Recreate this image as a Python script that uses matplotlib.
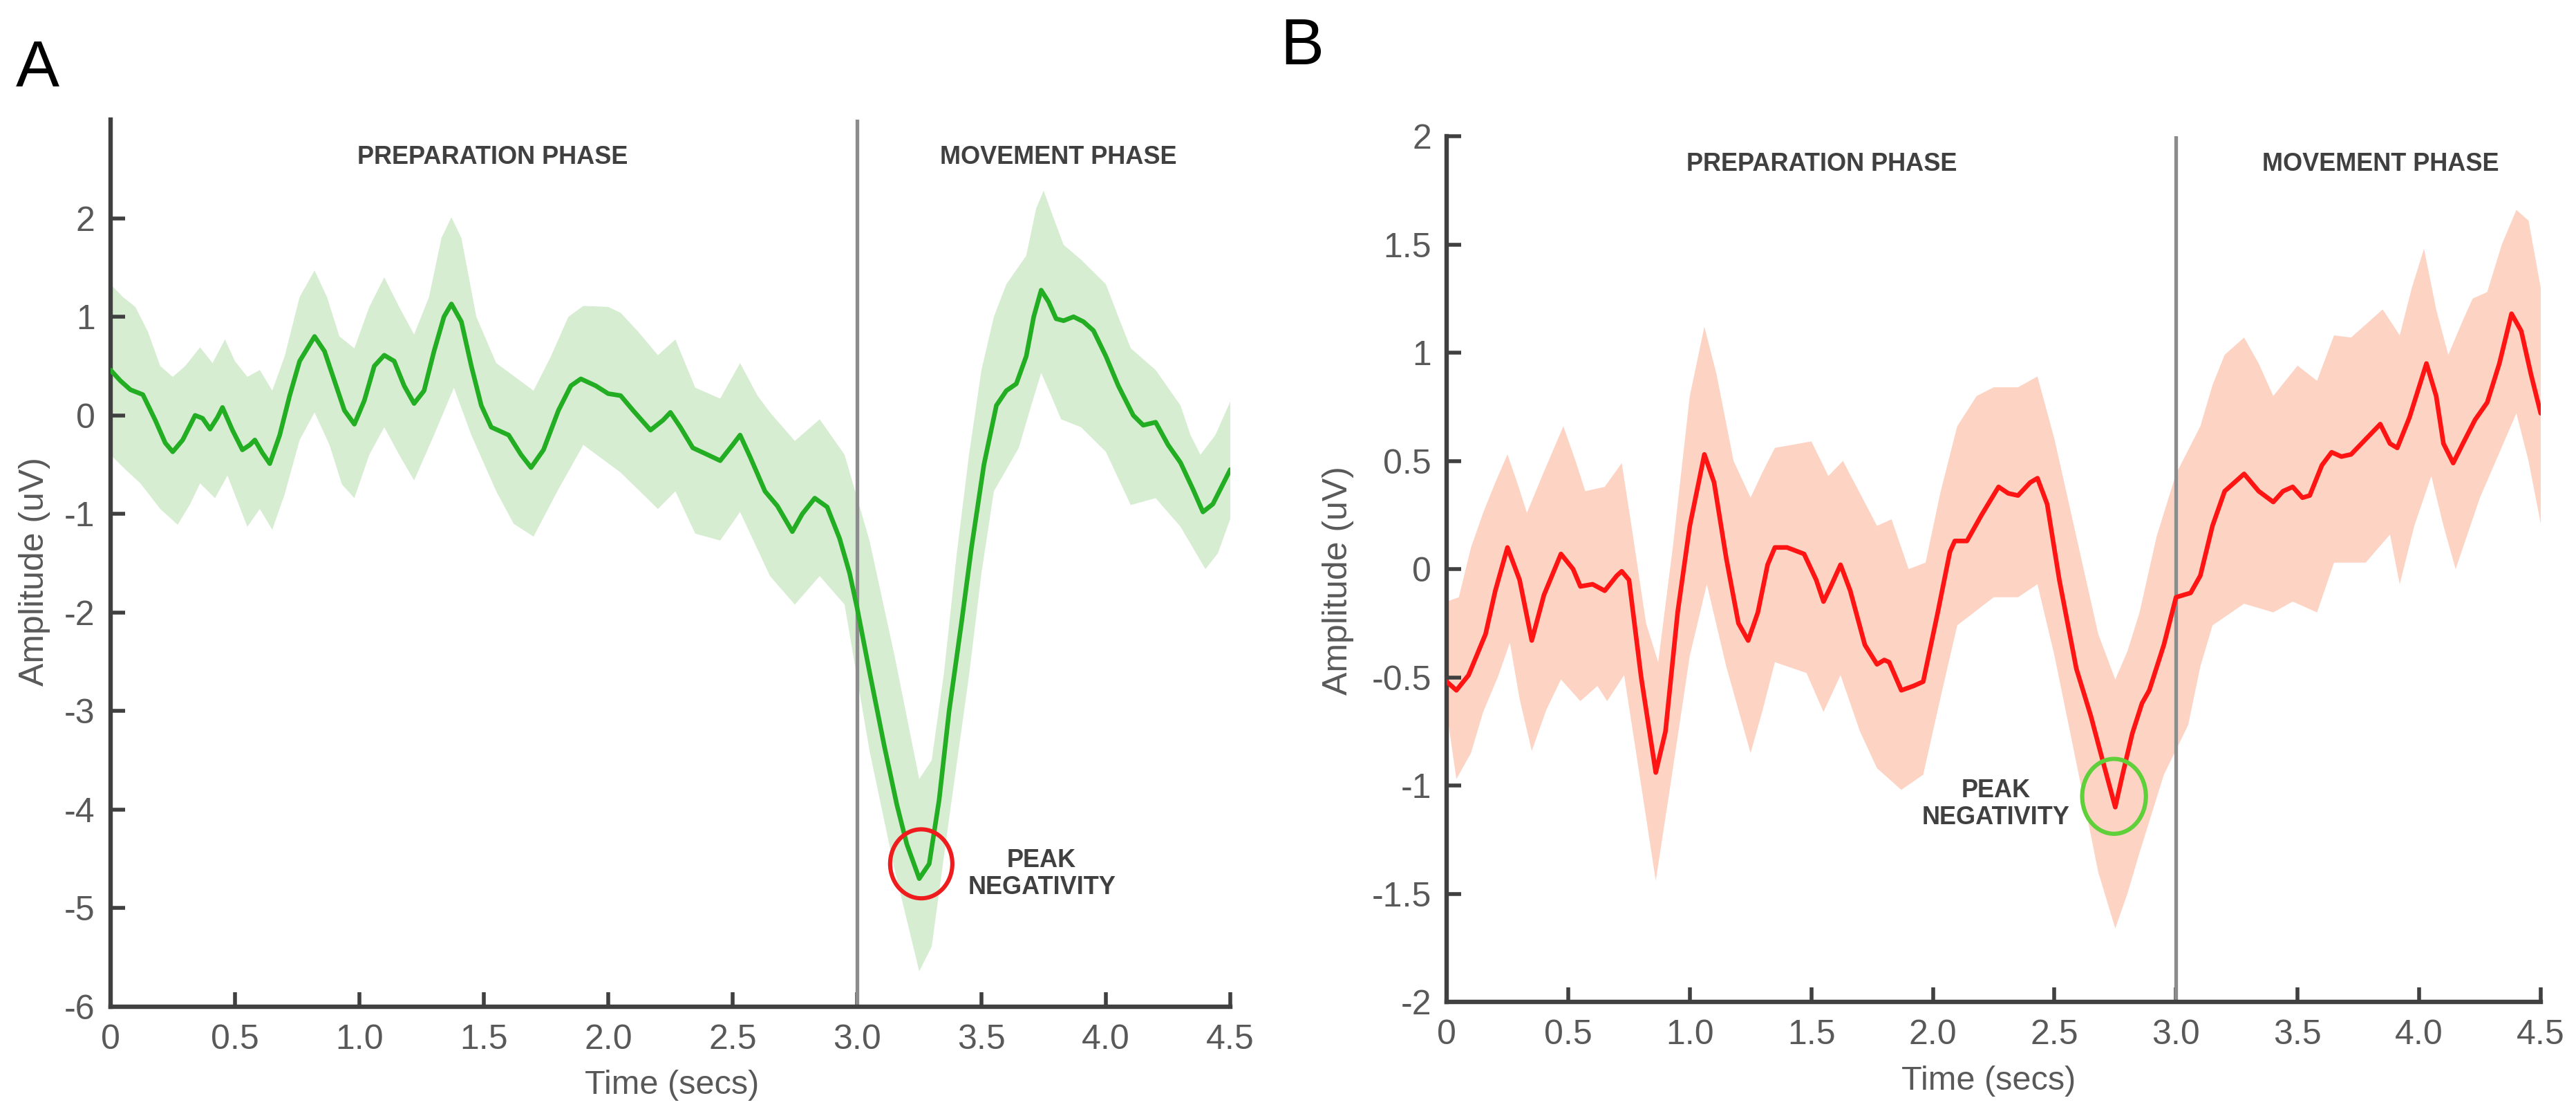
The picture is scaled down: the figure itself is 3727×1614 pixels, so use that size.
import matplotlib
matplotlib.use("Agg")
import matplotlib.pyplot as plt
from matplotlib.patches import Ellipse


# ===============================
# Data
# ===============================

# Panel A - green trace (mean) and its shaded band
time_a = [0, 0.04, 0.08, 0.13, 0.18, 0.22, 0.25, 0.29, 0.34, 0.37, 0.40, 0.43,
          0.45, 0.49, 0.53, 0.56, 0.58, 0.61, 0.64, 0.68, 0.72, 0.76, 0.82, 0.86,
          0.90, 0.94, 0.98, 1.02, 1.06, 1.10, 1.14, 1.18, 1.22, 1.26, 1.30, 1.34,
          1.37, 1.41, 1.45, 1.49, 1.53, 1.60, 1.65, 1.69, 1.74, 1.80, 1.85, 1.89,
          1.95, 2.00, 2.05, 2.10, 2.17, 2.22, 2.25, 2.29, 2.34, 2.40, 2.45, 2.50,
          2.53, 2.57, 2.63, 2.68, 2.74, 2.78, 2.83, 2.88, 2.93, 2.97, 3.00, 3.05,
          3.11, 3.16, 3.20, 3.25, 3.29, 3.33, 3.37, 3.42, 3.46, 3.51, 3.56, 3.60,
          3.64, 3.68, 3.71, 3.74, 3.77, 3.80, 3.83, 3.87, 3.91, 3.95, 4.00, 4.05,
          4.11, 4.15, 4.20, 4.25, 4.30, 4.35, 4.39, 4.43, 4.47, 4.50]
amp_a = [0.46, 0.35, 0.26, 0.21, -0.05, -0.28, -0.37, -0.25, 0.00, -0.03, -0.14, -0.02,
         0.08, -0.15, -0.35, -0.30, -0.25, -0.38, -0.49, -0.20, 0.20, 0.55, 0.80, 0.65,
         0.35, 0.05, -0.09, 0.15, 0.50, 0.61, 0.55, 0.30, 0.12, 0.25, 0.65, 1.00,
         1.13, 0.95, 0.50, 0.10, -0.12, -0.20, -0.40, -0.53, -0.35, 0.05, 0.30, 0.37,
         0.30, 0.22, 0.20, 0.05, -0.15, -0.05, 0.03, -0.12, -0.33, -0.40, -0.46, -0.30,
         -0.20, -0.42, -0.77, -0.92, -1.18, -1.00, -0.84, -0.93, -1.25, -1.60, -1.95, -2.60,
         -3.36, -3.95, -4.35, -4.70, -4.55, -3.90, -3.00, -2.10, -1.34, -0.50, 0.10, 0.25,
         0.32, 0.60, 1.00, 1.27, 1.15, 0.98, 0.96, 1.00, 0.95, 0.86, 0.60, 0.30,
         0.00, -0.10, -0.07, -0.30, -0.48, -0.75, -0.98, -0.90, -0.70, -0.55]

time_a_upper = [0, 0.05, 0.10, 0.15, 0.20, 0.25, 0.30, 0.36, 0.41, 0.46, 0.50, 0.55,
                0.60, 0.65, 0.70, 0.76, 0.82, 0.87, 0.92, 0.98, 1.04, 1.10, 1.16, 1.22,
                1.28, 1.33, 1.37, 1.41, 1.47, 1.55, 1.62, 1.70, 1.77, 1.84, 1.90, 2.00,
                2.05, 2.12, 2.20, 2.27, 2.35, 2.45, 2.53, 2.60, 2.65, 2.75, 2.85, 2.95,
                3.05, 3.15, 3.25, 3.30, 3.35, 3.40, 3.45, 3.50, 3.55, 3.60, 3.68, 3.72,
                3.75, 3.79, 3.83, 3.90, 4.00, 4.05, 4.10, 4.20, 4.30, 4.34, 4.38, 4.44,
                4.50]
amp_a_upper = [1.33, 1.20, 1.10, 0.85, 0.50, 0.39, 0.50, 0.69, 0.53, 0.77, 0.55, 0.39,
               0.46, 0.25, 0.60, 1.20, 1.47, 1.20, 0.80, 0.68, 1.10, 1.40, 1.10, 0.82,
               1.20, 1.80, 2.01, 1.80, 1.00, 0.53, 0.40, 0.25, 0.60, 1.00, 1.11, 1.10,
               1.04, 0.85, 0.61, 0.77, 0.28, 0.17, 0.53, 0.20, 0.03, -0.26, -0.04, -0.40,
               -1.27, -2.43, -3.69, -3.50, -2.60, -1.42, -0.40, 0.46, 1.00, 1.33, 1.62, 2.10,
               2.28, 2.00, 1.73, 1.58, 1.33, 1.00, 0.68, 0.46, 0.10, -0.20, -0.40, -0.20,
               0.14]

time_a_lower = [0, 0.06, 0.12, 0.20, 0.27, 0.32, 0.36, 0.42, 0.47, 0.55, 0.60, 0.65,
                0.70, 0.76, 0.82, 0.88, 0.93, 0.98, 1.04, 1.10, 1.16, 1.22, 1.30, 1.38,
                1.45, 1.55, 1.62, 1.70, 1.80, 1.90, 2.05, 2.20, 2.27, 2.35, 2.45, 2.53,
                2.65, 2.75, 2.85, 2.95, 3.05, 3.15, 3.25, 3.30, 3.37, 3.45, 3.50, 3.55,
                3.65, 3.70, 3.74, 3.78, 3.82, 3.90, 4.00, 4.10, 4.20, 4.30, 4.40, 4.45,
                4.50]
amp_a_lower = [-0.40, -0.55, -0.69, -0.95, -1.11, -0.90, -0.69, -0.84, -0.61, -1.13, -0.95, -1.16,
               -0.80, -0.25, 0.03, -0.30, -0.70, -0.84, -0.40, -0.12, -0.40, -0.66, -0.20, 0.28,
               -0.20, -0.77, -1.10, -1.23, -0.75, -0.30, -0.58, -0.95, -0.77, -1.20, -1.27, -0.98,
               -1.63, -1.92, -1.63, -1.92, -3.40, -4.60, -5.64, -5.39, -4.09, -2.64, -1.60, -0.77,
               -0.33, 0.10, 0.43, 0.20, -0.04, -0.12, -0.37, -0.91, -0.84, -1.13, -1.56, -1.40,
               -1.05]

# Panel B - red trace (mean) and its shaded band
time_b = [0, 0.04, 0.09, 0.16, 0.20, 0.25, 0.30, 0.35, 0.40, 0.47, 0.52, 0.55,
          0.60, 0.65, 0.70, 0.72, 0.75, 0.80, 0.86, 0.90, 0.95, 1.00, 1.06, 1.10,
          1.15, 1.20, 1.24, 1.28, 1.32, 1.35, 1.40, 1.47, 1.52, 1.55, 1.58, 1.62,
          1.66, 1.72, 1.77, 1.80, 1.82, 1.87, 1.92, 1.96, 2.02, 2.07, 2.09, 2.14,
          2.20, 2.27, 2.31, 2.35, 2.40, 2.43, 2.47, 2.52, 2.59, 2.65, 2.69, 2.75,
          2.78, 2.82, 2.86, 2.89, 2.95, 3.00, 3.06, 3.10, 3.15, 3.20, 3.24, 3.28,
          3.34, 3.40, 3.44, 3.48, 3.52, 3.55, 3.60, 3.64, 3.68, 3.72, 3.78, 3.84,
          3.88, 3.91, 3.96, 4.03, 4.07, 4.10, 4.14, 4.18, 4.23, 4.28, 4.33, 4.38,
          4.42, 4.46, 4.50]
amp_b = [-0.52, -0.56, -0.49, -0.30, -0.10, 0.10, -0.05, -0.33, -0.12, 0.07, 0.00, -0.08,
         -0.07, -0.10, -0.03, -0.01, -0.05, -0.50, -0.94, -0.75, -0.20, 0.20, 0.53, 0.40,
         0.05, -0.25, -0.33, -0.20, 0.02, 0.10, 0.10, 0.07, -0.05, -0.15, -0.08, 0.02,
         -0.10, -0.35, -0.44, -0.42, -0.43, -0.56, -0.54, -0.52, -0.20, 0.08, 0.13, 0.13,
         0.25, 0.38, 0.35, 0.34, 0.40, 0.42, 0.30, -0.05, -0.46, -0.68, -0.85, -1.10,
         -0.95, -0.76, -0.62, -0.56, -0.35, -0.13, -0.11, -0.03, 0.20, 0.36, 0.40, 0.44,
         0.36, 0.31, 0.36, 0.38, 0.33, 0.34, 0.48, 0.54, 0.52, 0.53, 0.60, 0.67,
         0.58, 0.56, 0.70, 0.95, 0.80, 0.58, 0.49, 0.58, 0.69, 0.77, 0.95, 1.18,
         1.10, 0.90, 0.72]

time_b_upper = [0, 0.05, 0.10, 0.15, 0.20, 0.25, 0.29, 0.33, 0.40, 0.48, 0.53, 0.57,
                0.65, 0.72, 0.76, 0.82, 0.87, 0.93, 1.00, 1.06, 1.11, 1.18, 1.25, 1.30,
                1.35, 1.50, 1.57, 1.63, 1.70, 1.77, 1.83, 1.90, 1.97, 2.03, 2.10, 2.18,
                2.25, 2.35, 2.43, 2.50, 2.60, 2.68, 2.75, 2.80, 2.85, 2.92, 3.00, 3.10,
                3.15, 3.20, 3.28, 3.34, 3.40, 3.50, 3.58, 3.65, 3.72, 3.80, 3.85, 3.92,
                3.97, 4.02, 4.07, 4.12, 4.18, 4.22, 4.28, 4.34, 4.40, 4.45, 4.50]
amp_b_upper = [-0.15, -0.13, 0.10, 0.26, 0.40, 0.53, 0.40, 0.26, 0.45, 0.66, 0.50, 0.36,
               0.38, 0.49, 0.20, -0.25, -0.43, 0.10, 0.80, 1.12, 0.90, 0.50, 0.33, 0.45,
               0.56, 0.59, 0.43, 0.50, 0.35, 0.20, 0.23, 0.00, 0.03, 0.35, 0.66, 0.80,
               0.84, 0.84, 0.89, 0.60, 0.10, -0.30, -0.51, -0.38, -0.20, 0.15, 0.44, 0.66,
               0.85, 0.99, 1.07, 0.95, 0.80, 0.94, 0.87, 1.08, 1.07, 1.15, 1.20, 1.08,
               1.30, 1.48, 1.20, 0.99, 1.15, 1.25, 1.28, 1.50, 1.66, 1.61, 1.30]

time_b_lower = [0, 0.04, 0.10, 0.15, 0.21, 0.26, 0.30, 0.35, 0.41, 0.47, 0.55, 0.62,
                0.66, 0.73, 0.80, 0.86, 0.92, 1.00, 1.07, 1.15, 1.25, 1.30, 1.35, 1.48,
                1.55, 1.62, 1.70, 1.77, 1.87, 1.96, 2.03, 2.10, 2.25, 2.35, 2.43, 2.50,
                2.60, 2.68, 2.75, 2.80, 2.85, 2.95, 3.05, 3.10, 3.15, 3.28, 3.40, 3.48,
                3.58, 3.65, 3.78, 3.88, 3.92, 3.98, 4.05, 4.10, 4.15, 4.25, 4.30, 4.40,
                4.45, 4.50]
amp_b_lower = [-0.66, -0.97, -0.85, -0.66, -0.50, -0.34, -0.60, -0.84, -0.65, -0.51, -0.61, -0.54,
               -0.61, -0.49, -1.00, -1.44, -1.00, -0.40, -0.07, -0.45, -0.85, -0.65, -0.43, -0.48,
               -0.66, -0.49, -0.75, -0.92, -1.02, -0.95, -0.60, -0.26, -0.13, -0.13, -0.07, -0.40,
               -0.95, -1.40, -1.66, -1.50, -1.31, -0.95, -0.72, -0.45, -0.26, -0.16, -0.20, -0.15,
               -0.20, 0.03, 0.03, 0.16, -0.07, 0.20, 0.43, 0.20, 0.00, 0.33, 0.46, 0.72,
               0.50, 0.21]

# Ticks
x_ticks = [0, 0.5, 1.0, 1.5, 2.0, 2.5, 3.0, 3.5, 4.0, 4.5]
x_tick_labels = ["0", "0.5", "1.0", "1.5", "2.0", "2.5", "3.0", "3.5", "4.0", "4.5"]
y_ticks_a = [-6, -5, -4, -3, -2, -1, 0, 1, 2]
y_tick_labels_a = ["-6", "-5", "-4", "-3", "-2", "-1", "0", "1", "2"]
y_ticks_b = [-2, -1.5, -1, -0.5, 0, 0.5, 1, 1.5, 2]
y_tick_labels_b = ["-2", "-1.5", "-1", "-0.5", "0", "0.5", "1", "1.5", "2"]

PHASE_SPLIT = 3.0


# ===============================
# Style
# ===============================

plt.rcParams["font.family"] = ["Liberation Sans", "DejaVu Sans"]
plt.rcParams["axes.unicode_minus"] = False

AXIS_COLOR = "#404040"
LABEL_COLOR = "#595959"
TEXT_COLOR = "#404040"


def style_axes(ax, y_ticks, y_labels, ylim):
    for side in ("top", "right"):
        ax.spines[side].set_visible(False)
    for side in ("left", "bottom"):
        ax.spines[side].set_color(AXIS_COLOR)
        ax.spines[side].set_linewidth(2.3)
    ax.set_xlim(0, 4.5)
    ax.set_ylim(*ylim)
    ax.set_xticks(x_ticks)
    ax.set_xticklabels(x_tick_labels)
    ax.set_yticks(y_ticks)
    ax.set_yticklabels(y_labels)
    ax.tick_params(direction="in", length=7.5, width=2.0, color=AXIS_COLOR,
                   labelcolor=LABEL_COLOR, labelsize=18)
    ax.tick_params(axis="x", pad=9)
    ax.tick_params(axis="y", pad=8)
    ax.patch.set_visible(False)


def draw_panel(ax, t, v, tu, vu, tl, vl, line_color, band_color):
    band_x = list(tu) + list(tl)[::-1]
    band_y = list(vu) + list(vl)[::-1]
    ax.fill(band_x, band_y, color=band_color, lw=0, zorder=1)
    ax.plot(t, v, color=line_color, lw=2.4, zorder=3,
            solid_joinstyle="round", solid_capstyle="round")
    ax.axvline(PHASE_SPLIT, color="#8c8c8c", lw=1.9, zorder=2)


# ===============================
# Figure
# ===============================

fig = plt.figure(figsize=(18.635, 8.07), dpi=200)

ax_a = fig.add_axes([0.0429, 0.0979, 0.4347, 0.7949])
ax_b = fig.add_axes([0.5616, 0.1022, 0.4247, 0.7757])

# Panel A
draw_panel(ax_a, time_a, amp_a, time_a_upper, amp_a_upper, time_a_lower, amp_a_lower,
           "#22ad22", "#d6edd2")
style_axes(ax_a, y_ticks_a, y_tick_labels_a, (-6, 3))
ax_a.text(1.536, 2.62, "PREPARATION PHASE", ha="center", va="center",
          fontsize=13, fontweight="bold", color=TEXT_COLOR)
ax_a.text(3.81, 2.62, "MOVEMENT PHASE", ha="center", va="center",
          fontsize=13, fontweight="bold", color=TEXT_COLOR)
ax_a.add_patch(Ellipse((3.258, -4.55), 0.25, 0.70, fill=False,
                       edgecolor="#ee1c1c", lw=2.2, zorder=4))
ax_a.text(3.742, -4.65, "PEAK\nNEGATIVITY", ha="center", va="center",
          fontsize=13, fontweight="bold", color=TEXT_COLOR, linespacing=1.15)

# Panel B
draw_panel(ax_b, time_b, amp_b, time_b_upper, amp_b_upper, time_b_lower, amp_b_lower,
           "#ff1414", "#fdd3c4")
style_axes(ax_b, y_ticks_b, y_tick_labels_b, (-2, 2))
ax_b.text(1.543, 1.87, "PREPARATION PHASE", ha="center", va="center",
          fontsize=13, fontweight="bold", color=TEXT_COLOR)
ax_b.text(3.84, 1.87, "MOVEMENT PHASE", ha="center", va="center",
          fontsize=13, fontweight="bold", color=TEXT_COLOR)
ax_b.add_patch(Ellipse((2.745, -1.05), 0.262, 0.346, fill=False,
                       edgecolor="#5fcf3a", lw=2.2, zorder=4))
ax_b.text(2.258, -1.085, "PEAK\nNEGATIVITY", ha="center", va="center",
          fontsize=13, fontweight="bold", color=TEXT_COLOR, linespacing=1.15)

# Axis labels
fig.text(0.0134, 0.4876, "Amplitude (uV)", rotation=90, ha="center", va="center",
         fontsize=18, color=LABEL_COLOR)
fig.text(0.5195, 0.4796, "Amplitude (uV)", rotation=90, ha="center", va="center",
         fontsize=18, color=LABEL_COLOR)
fig.text(0.2608, 0.0273, "Time (secs)", ha="center", va="center",
         fontsize=17.5, color=LABEL_COLOR)
fig.text(0.7719, 0.0310, "Time (secs)", ha="center", va="center",
         fontsize=17.5, color=LABEL_COLOR)

# Panel letters
fig.text(0.0062, 0.9226, "A", ha="left", va="baseline", fontsize=34, color="black")
fig.text(0.4969, 0.9424, "B", ha="left", va="baseline", fontsize=34, color="black")

fig.savefig("out.png", dpi=200)
